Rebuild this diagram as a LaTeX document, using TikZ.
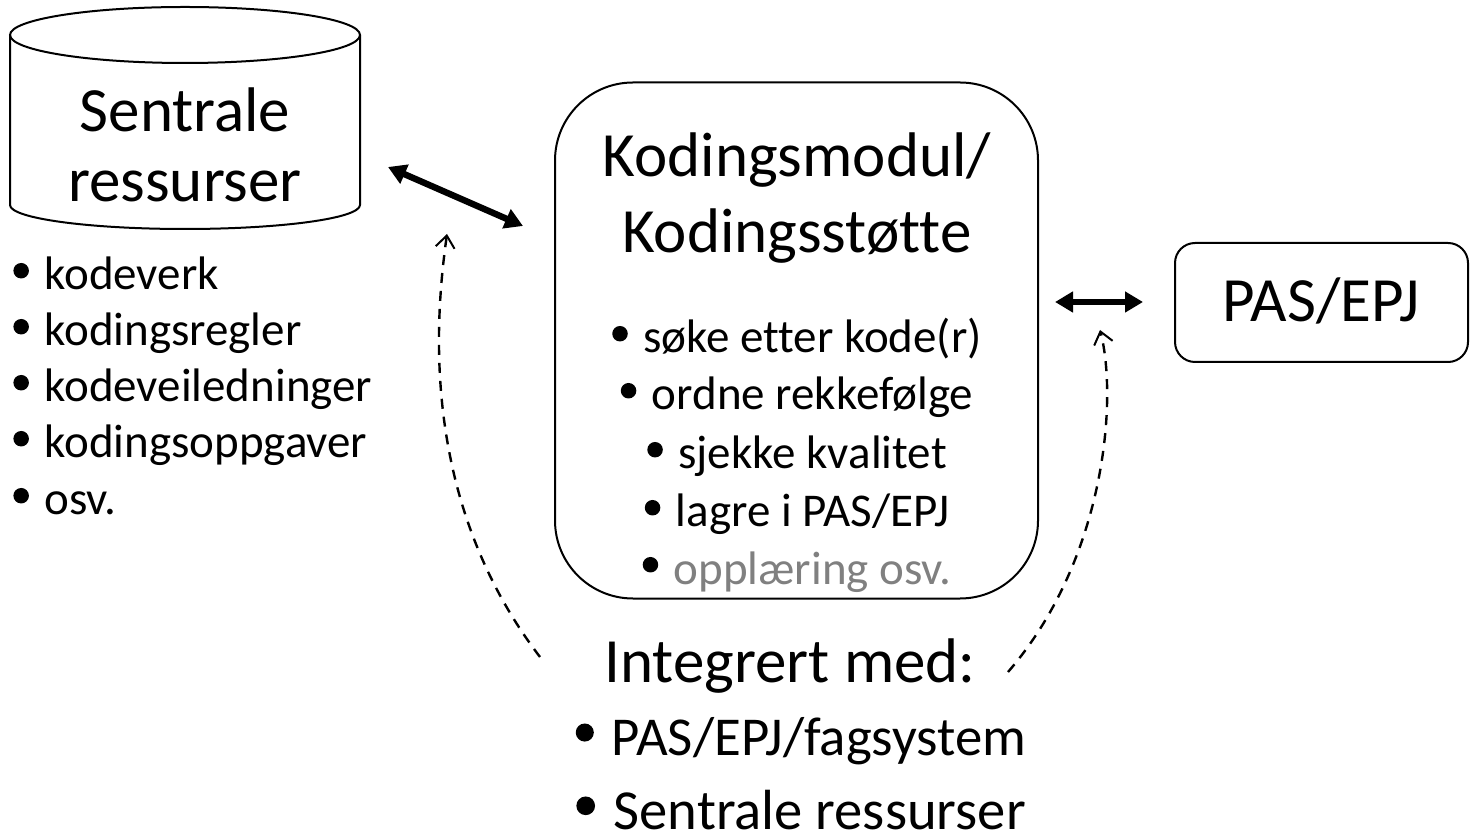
\documentclass[tikz,border=0pt]{standalone}
\usepackage{fontspec}
\setmainfont{Carlito}[Ligatures={NoCommon}]
\usetikzlibrary{arrows.meta}
\definecolor{grtext}{RGB}{128,128,128}
\newcommand\mybul{\tikz[baseline=0pt]\fill[black] (0.165em,0.41em) circle[radius=0.165em];\hspace{0.33em}}
\begin{document}
\begin{tikzpicture}[x=0.5pt,y=-0.5pt,
  big/.style={font=\fontsize{31.5}{37}\selectfont, anchor=base, inner sep=0pt},
  midA/.style={font=\fontsize{27.4}{33}\selectfont, anchor=base, inner sep=0pt},
  midB/.style={font=\fontsize{28.3}{33}\selectfont, anchor=base, inner sep=0pt},
  small/.style={font=\fontsize{23.5}{28}\selectfont, anchor=base, inner sep=0pt},
  smallleft/.style={small, anchor=base west},
  outline/.style={draw, line width=1pt},
  boldarrow/.style={line width=3.2pt, {Triangle[length=9pt,width=10pt]}-{Triangle[length=9pt,width=10pt]}},
  dasharrow/.style={line width=1.2pt, dash pattern=on 5pt off 4pt, -{Straight Barb[length=6pt,width=9.5pt,line width=1pt]}}
]
\useasboundingbox (0,0) rectangle (1470,838);

% cylinder
\draw[line width=1pt] (10,35) .. controls (10,19.54) and (88.35,7) .. (185,7)
  .. controls (281.65,7) and (360,19.54) .. (360,35)
  .. controls (360,50.46) and (281.65,63) .. (185,63)
  .. controls (88.35,63) and (10,50.46) .. (10,35) -- cycle;
\draw[line width=1pt] (10,35) -- (10,205)
  .. controls (10,218.3) and (88.35,229) .. (185,229)
  .. controls (281.65,229) and (360,218.3) .. (360,205) -- (360,35);
\node[big] (s1) at (185,132) {Sentrale};
\node[big] (s2) at (185,202) {ressurser};

\node[smallleft] (l1) at (13,290) {\mybul kodeverk};
\node[smallleft] (l2) at (13,346) {\mybul kodingsregler};
\node[smallleft] (l3) at (13,402) {\mybul kodeveiledninger};
\node[smallleft] (l4) at (13,458) {\mybul kodingsoppgaver};
\node[smallleft] (l5) at (13,515) {\mybul osv.};

% coding module
\node[outline, rounded corners=39pt, minimum width=241.5pt, minimum height=258pt] (kod) at (796.5,340.5) {};
\node[big] (k1) at (797,177) {Kodingsmodul/};
\node[big] (k2) at (797,253) {Kodingsstøtte};
\node[small] (k3) at (797,353) {\mybul søke etter kode(r)};
\node[small] (k4) at (797,410) {\mybul ordne rekkefølge};
\node[small] (k5) at (797,469) {\mybul sjekke kvalitet};
\node[small] (k6) at (797,527) {\mybul lagre i PAS/EPJ};
\node[small] (k7) at (797,584) {\mybul\textcolor{grtext}{opplæring osv.}};

% PAS/EPJ
\node[outline, rounded corners=10pt, minimum width=146.5pt, minimum height=59.5pt] (pas) at (1321.5,302.5) {};
\node[big] (p1) at (1321,322) {PAS/EPJ};

% bottom text
\node[big] (i1) at (790,682) {Integrert med:};
\node[midA] (i2) at (801,755) {\mybul PAS/EPJ/fagsystem};
\node[midB] (i3) at (801,829) {\mybul Sentrale ressurser};

% arrows
\coordinate (a1) at (388,167);
\coordinate (a2) at (523,226);
\draw[boldarrow] (a1) -- (a2);
\coordinate (b1) at (1055,302);
\coordinate (b2) at (1143,302);
\draw[boldarrow] (b1) -- (b2);

\coordinate (c1) at (540,657);
\coordinate (c2) at (447,234);
\draw[dasharrow] (c1) .. controls (420,500) and (435,320) .. (c2);
\coordinate (d1) at (1008,672);
\coordinate (d2) at (1100,330);
\draw[dasharrow] (d1) .. controls (1105,560) and (1118,400) .. (d2);
\end{tikzpicture}
\end{document}
